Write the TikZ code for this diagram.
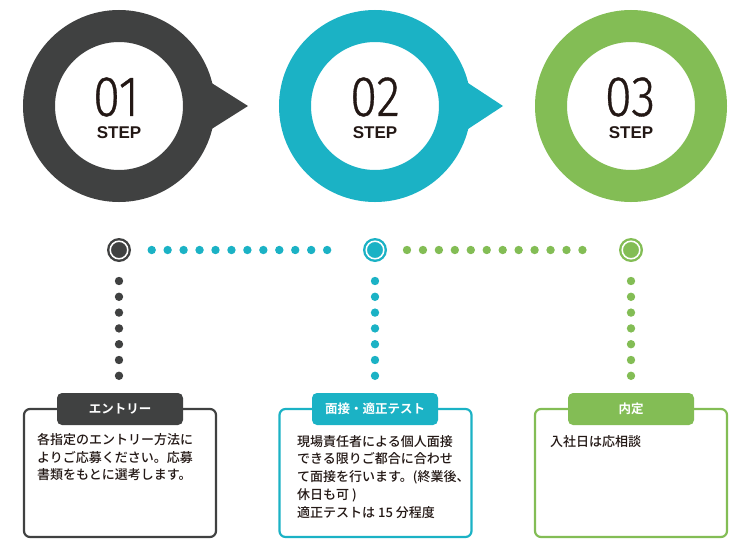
\documentclass[tikz,border=0pt]{standalone}
\usepackage{fontspec}
\setmainfont{Liberation Sans}
\newfontfamily\cjk{Noto Sans CJK JP}[UprightFont=* Medium, BoldFont=* Bold]
\newfontfamily\numfont{Fira Sans}[UprightFont=* Light, UprightFeatures={FakeBold=0.7}]
\definecolor{cdark}{HTML}{404141}
\definecolor{ccyan}{HTML}{1BB2C5}
\definecolor{cgreen}{HTML}{83BD55}
\definecolor{ctext}{HTML}{231815}
\tikzset{
  ring/.style={circle, draw=#1, fill=white, line width=32pt, minimum size=160pt, inner sep=0pt},
  numtext/.style={inner sep=0pt, text=ctext, font=\numfont\fontsize{57}{57}\selectfont, xscale=0.86},
  steptext/.style={inner sep=0pt, text=ctext, font=\bfseries\fontsize{17}{17}\selectfont},
  marker/.style={circle, fill=#1, minimum size=24pt, inner sep=0pt,
    path picture={\draw[white, line width=1.5pt] (path picture bounding box.center) circle (8.8pt);}},
  dotline/.style={draw=#1, line width=8.4pt, line cap=round},
  box/.style={draw=#1, fill=white, line width=2.2pt, rounded corners=6pt, minimum width=192pt, minimum height=128pt, inner sep=0pt},
  tab/.style={fill=#1, rounded corners=5pt, minimum width=126pt, minimum height=32pt, inner sep=0pt, text=white, font=\cjk\bfseries\fontsize{12.5}{12.5}\selectfont},
  body/.style={anchor=north west, inner sep=0pt, align=left, text=ctext, font=\cjk\fontsize{13}{17.8}\selectfont},
}
\begin{document}
\begin{tikzpicture}[x=1pt, y=-1pt]
\useasboundingbox (0,0) rectangle (750,549);
% pointers
\coordinate (p1) at (119,106);
\coordinate (p2) at (375,106);
\fill[cdark] ([shift={(91,-24)}]p1) -- ([shift={(129,0)}]p1) -- ([shift={(91,24)}]p1) -- ([shift={(70,0)}]p1) -- cycle;
\fill[ccyan] ([shift={(93,-23)}]p2) -- ([shift={(128,0)}]p2) -- ([shift={(93,23)}]p2) -- ([shift={(70,0)}]p2) -- cycle;
% rings
\node[ring=cdark] (c1) at (119,106) {};
\node[ring=ccyan] (c2) at (375,106) {};
\node[ring=cgreen] (c3) at (631,106) {};
\node[numtext] (n1) at ([shift={(-3,-9)}]c1.center) {01};
\node[numtext] (n2) at ([shift={(0,-9)}]c2.center) {02};
\node[numtext] (n3) at ([shift={(-1,-9)}]c3.center) {03};
\node[steptext] (s1) at ([shift={(0,26.5)}]c1.center) {STEP};
\node[steptext] (s2) at ([shift={(0,26.5)}]c2.center) {STEP};
\node[steptext] (s3) at ([shift={(0,26.5)}]c3.center) {STEP};
% markers
\node[marker=cdark] (m1) at (119,250) {};
\node[marker=ccyan] (m2) at (375,250) {};
\node[marker=cgreen] (m3) at (631,250) {};
% boxes
\node[box=cdark] (b1) at (120,473) {};
\node[box=ccyan] (b2) at (375.5,473) {};
\node[box=cgreen] (b3) at (631,473) {};
\node[tab=cdark] (t1) at (120,409) {エントリー};
\node[tab=ccyan] (t2) at (375,409) {面接・適正テスト};
\node[tab=cgreen] (t3) at (631,409) {内定};
% dotted connectors
\draw[dotline=ccyan, dash pattern=on 0pt off 15.95pt, shorten <=32.7pt, shorten >=32pt] (m1.center) -- (m2.center);
\draw[dotline=cgreen, dash pattern=on 0pt off 15.95pt, shorten <=32pt, shorten >=33pt] (m2.center) -- (m3.center);
\draw[dotline=cdark, dash pattern=on 0pt off 15.8pt, shorten <=31pt, shorten >=17pt] (m1.center) -- (t1.north -| m1.center);
\draw[dotline=ccyan, dash pattern=on 0pt off 15.8pt, shorten <=31pt, shorten >=17pt] (m2.center) -- (t2.north -| m2.center);
\draw[dotline=cgreen, dash pattern=on 0pt off 15.8pt, shorten <=31pt, shorten >=17pt] (m3.center) -- (t3.north -| m3.center);
% texts
\node[body] (x1) at (37,433) {各指定のエントリー方法に\\よりご応募ください。応募\\書類をもとに選考します。};
\node[body] (x2) at (297,435) {現場責任者による個人面接\\できる限りご都合に合わせ\\て面接を行います。(終業後、\\休日も可 )\\適正テストは 15 分程度};
\node[body] (x3) at (550,435) {入社日は応相談};
\end{tikzpicture}
\end{document}
